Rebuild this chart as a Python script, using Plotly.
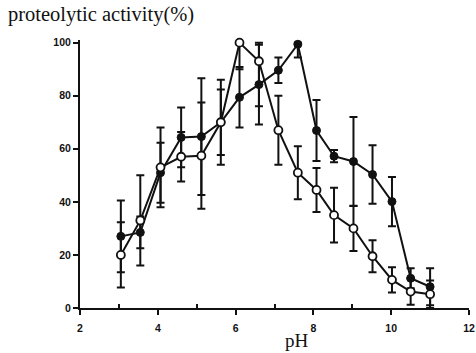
import plotly.graph_objects as go

# pH values (x)
ph = [3.05, 3.55, 4.07, 4.6, 5.12, 5.62, 6.1, 6.6, 7.1, 7.6, 8.08, 8.53, 9.03, 9.52, 10.02, 10.5, 11.0]

# open-circle series
open_vals = [20, 33, 53, 57, 57.4, 70, 100, 93, 67, 51, 44.5, 35, 30, 19.5, 10.6, 6.2, 5.2]
open_plus = [12.3, 17, 15, 9.3, 20, 12.3, 0, 7, 13, 10, 8.3, 10.3, 8.5, 6, 4.8, 5, 5.2]
open_minus = [12.3, 17, 15, 9.3, 20, 12.3, 10, 17, 13, 10, 8.3, 10.3, 8.5, 6, 4.8, 5, 5.2]

# filled-circle series
filled_vals = [27, 28.5, 51, 64.3, 64.6, 70, 79.4, 84.2, 89.6, 99.4, 66.9, 57.2, 55.2, 50.3, 40.1, 11.2, 8]
filled_plus = [13.5, 6, 11.3, 11.3, 22, 16, 11.4, 15, 4.8, 0.6, 11.5, 2.3, 16.8, 11, 9.3, 3.8, 7]
filled_minus = [13.5, 6, 11.3, 11.3, 22, 16, 11.4, 15, 4.8, 5, 11.5, 2.3, 16.8, 11, 9.3, 3.8, 7]

x_ticks = [2, 4, 6, 8, 10, 12]
y_ticks = [0, 20, 40, 60, 80, 100]

ink = "#111111"

W, H = 476, 353
L, R, T, B = 80, 7, 40, 45

fig = go.Figure()

fig.add_trace(go.Scatter(
    x=ph, y=filled_vals, mode="lines+markers",
    line=dict(color=ink, width=2),
    marker=dict(symbol="circle", size=8, color=ink, line=dict(color=ink, width=1)),
    error_y=dict(type="data", array=filled_plus, arrayminus=filled_minus,
                 color=ink, thickness=2, width=4),
    cliponaxis=False, showlegend=False))

fig.add_trace(go.Scatter(
    x=ph, y=open_vals, mode="lines+markers",
    line=dict(color=ink, width=2),
    marker=dict(symbol="circle", size=8, color="white", line=dict(color=ink, width=1.8)),
    error_y=dict(type="data", array=open_plus, arrayminus=open_minus,
                 color=ink, thickness=2, width=4),
    cliponaxis=False, showlegend=False))

tick_font = dict(family="Liberation Sans", size=10.5, color=ink, weight="bold")


def paper_x(px):
    return (px - L) / (W - L - R)


def paper_y(py):
    return (H - B - py) / (H - T - B)


fig.update_layout(
    width=W, height=H,
    margin=dict(l=L, r=R, t=T, b=B, autoexpand=False),
    paper_bgcolor="white", plot_bgcolor="white",
    xaxis=dict(range=[2, 12], tickvals=x_ticks, ticktext=[str(v) for v in x_ticks],
               showgrid=False, zeroline=False, showline=True, linecolor=ink, linewidth=2,
               ticks="outside", ticklen=5, tickwidth=2, tickcolor=ink, automargin=False,
               tickfont=tick_font, ticklabelstandoff=4,
               minor=dict(tickvals=[3, 5, 7, 9, 11], ticks="inside", ticklen=4,
                          tickwidth=2, tickcolor=ink, showgrid=False)),
    yaxis=dict(range=[0, 101], tickvals=y_ticks, ticktext=[str(v) for v in y_ticks],
               showgrid=False, zeroline=False, showline=True, linecolor=ink, linewidth=2,
               ticks="outside", ticklen=5, tickwidth=2, tickcolor=ink, automargin=False,
               tickfont=tick_font),
    annotations=[
        dict(text="proteolytic activity(%)", x=paper_x(6), y=paper_y(14),
             xref="paper", yref="paper", showarrow=False,
             font=dict(family="Liberation Serif", size=20.5, color=ink),
             xanchor="left", yanchor="middle"),
        dict(text="pH", x=paper_x(297), y=paper_y(340),
             xref="paper", yref="paper", showarrow=False,
             font=dict(family="Liberation Serif", size=19, color=ink),
             xanchor="center", yanchor="middle"),
    ],
)

fig.write_html("out.html", config={"displayModeBar": False},
               post_script="document.body.style.margin='0';")
